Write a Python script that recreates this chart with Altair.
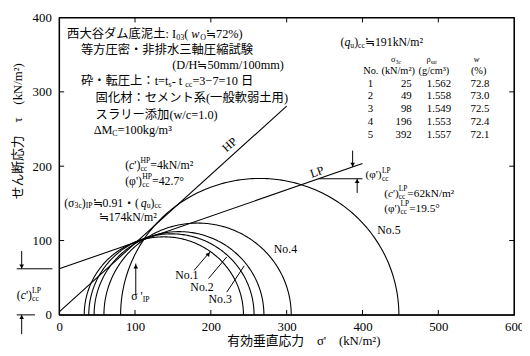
import math
import altair as alt
import pandas as pd
import numpy as np

# ---------------- data ----------------
circle_names = ["No.1", "No.2", "No.3", "No.4", "No.5"]
sigma3_f = [33, 39, 46, 59, 81]        # left end of each Mohr circle (kN/m2)
sigma1_f = [243, 257, 270, 306, 448]   # right end of each Mohr circle (kN/m2)

table_no = [1, 2, 3, 4, 5]
table_s3c = [25, 49, 98, 196, 392]
table_rho = [1.562, 1.558, 1.549, 1.553, 1.557]
table_w = [72.8, 73.0, 72.5, 72.4, 72.1]

env_names = ["HP", "LP"]
env_c = [4, 62]
env_phi = [42.7, 19.5]
env_xmax = [300, 400]

x_ticks = [0, 100, 200, 300, 400, 500, 600]
y_ticks = [0, 100, 200, 300, 400]

# ---------------- layout helpers ----------------
W, H = 462, 302
kx = 600 / W
ky = 400 / H
FONT = "Liberation Serif, Noto Sans CJK JP"

xs = alt.Scale(domain=[0, 600], nice=False, zero=False)
ys = alt.Scale(domain=[0, 400], nice=False, zero=False)

CW = {'(': .333, ')': .333, "'": .18, '=': .564, '.': .25, '/': .278, '°': .4, '²': .3,
      '³': .3, ' ': .25, '%': .833, '-': .333, '−': .564, ':': .278, '≒': 1.0, 'σ': .55,
      'φ': .6, 'ρ': .5, 'τ': .44, 'Δ': .61, ',': .25,
      'I': .333, 'P': .556, 'L': .611, 'M': .889, 'N': .722, 'H': .722, 'D': .722, 'C': .667, 'O': .722,
      'i': .278, 'l': .278, 't': .278, 'm': .778, 'w': .722, 'c': .444, 's': .389, 'k': .5, 'g': .5,
      'u': .5, 'q': .5, 'a': .444, 'n': .5, 'e': .444, 'o': .5}


def cw(ch):
    if ch in CW:
        return CW[ch]
    if ch.isdigit():
        return .5
    if ord(ch) > 0x2E80:
        return 1.0
    if ch.isupper():
        return .7
    return .45


def rich(x, y, parts, size=12.5):
    rows = []
    off = 0.0
    sub_start = 0.0
    sub_end = 0.0
    for txt, kind in parts:
        base = kind[0]
        it = kind.endswith('i')
        s = size * 0.65 if base in 'bpq' else size
        if base == 'n':
            dy = 0.0
        elif base == 'b':
            dy = 0.32 * size
        else:
            dy = -0.38 * size
        w = sum(cw(c) for c in txt) * s
        start = sub_start if base == 'q' else off
        rows.append(dict(x=x + start * kx, y=y - dy * ky, text=txt, size=s, it=it))
        if base == 'b':
            sub_start = off
            off += w
            sub_end = off
        elif base == 'q':
            off = max(sub_end, sub_start + w)
        else:
            off += w
    return rows


X = lambda: alt.X("x:Q", scale=xs)
Y = lambda: alt.Y("y:Q", scale=ys)

# ---------------- Mohr circles ----------------
crow = []
for name, a, b in zip(circle_names, sigma3_f, sigma1_f):
    c = (a + b) / 2
    r = (b - a) / 2
    for k in range(0, 181):
        t = math.radians(k)
        crow.append(dict(no=name, k=k, x=c + r * math.cos(t), y=r * math.sin(t)))
cdf = pd.DataFrame(crow)

xaxis = alt.Axis(values=x_ticks, ticks=False, domain=False, grid=False, labelFont=FONT,
                 labelFontSize=13, labelColor="black", labelPadding=6, labelFlush=False,
                 title="有効垂直応力　σ'　(kN/m²)", titleFont=FONT, titleFontSize=13,
                 titleFontWeight="normal", titleColor="black", titleX=248, titleY=26,
                 titleAlign="center", titleBaseline="middle")
yaxis = alt.Axis(values=y_ticks, ticks=False, domain=False, grid=False, labelFont=FONT,
                 labelFontSize=13, labelColor="black", labelPadding=8, labelFlush=False,
                 title="せん断応力　τ　(kN/m²)", titleFont=FONT, titleFontSize=13,
                 titleFontWeight="normal", titleColor="black", titleX=-42, titleY=115,
                 titleAngle=270, titleAlign="center", titleBaseline="middle")

circles = alt.Chart(cdf).mark_line(color="black", strokeWidth=1.1).encode(
    x=alt.X("x:Q", scale=xs, axis=xaxis),
    y=alt.Y("y:Q", scale=ys, axis=yaxis),
    detail="no:N", order="k:Q")

# ---------------- envelopes ----------------
erow = []
for n, c, p, xm in zip(env_names, env_c, env_phi, env_xmax):
    for xv in (0, xm):
        erow.append(dict(env=n, x=xv, y=c + xv * math.tan(math.radians(p))))
edf = pd.DataFrame(erow)
envs = alt.Chart(edf).mark_line(color="black", strokeWidth=1.1, clip=False).encode(
    x=X(), y=Y(), detail="env:N")

# ---------------- leader / arrow segments ----------------
lp_tan = math.tan(math.radians(env_phi[1]))
seg = pd.DataFrame([
    dict(x=178, y=60, x2=199, y2=85),
    dict(x=197, y=49, x2=221, y2=78),
    dict(x=221, y=30.5, x2=244, y2=66),
    dict(x=101, y=26.5, x2=101, y2=69),
    dict(x=342, y=env_c[1] + 342 * lp_tan, x2=400, y2=env_c[1] + 342 * lp_tan),
    dict(x=387, y=221, x2=387, y2=env_c[1] + 387 * lp_tan),
    dict(x=393, y=164, x2=393, y2=env_c[1] + 342 * lp_tan),
    dict(x=-56, y=env_c[1], x2=-9, y2=env_c[1]),
    dict(x=-49.5, y=86, x2=-49.5, y2=env_c[1]),
    dict(x=-56, y=0, x2=-32, y2=0),
    dict(x=-49.5, y=-26, x2=-49.5, y2=0),
])
segs = alt.Chart(seg).mark_rule(color="black", strokeWidth=1.0, clip=False).encode(
    x=X(), y=Y(), x2="x2:Q", y2="y2:Q")

heads = pd.DataFrame([
    dict(x=101, y=65, ang=0),
    dict(x=197, y=82, ang=40),
    dict(x=387, y=env_c[1] + 387 * lp_tan + 3, ang=180),
    dict(x=393, y=env_c[1] + 342 * lp_tan - 3, ang=0),
    dict(x=-49.5, y=env_c[1] + 3, ang=180),
    dict(x=-49.5, y=-3, ang=0),
])
arrowheads = alt.Chart(heads).mark_point(shape="triangle-up", filled=True, color="black",
                                         size=22, opacity=1, clip=False).encode(
    x=X(), y=Y(), angle=alt.Angle("ang:Q", scale=None))

# ---------------- frame and inward ticks ----------------
tk = dict(color="black", strokeWidth=1.2)
frame_src = pd.DataFrame(dict(k=[0]))
frame = alt.layer(
    alt.Chart(frame_src).mark_rule(**tk).encode(x=alt.value(0), x2=alt.value(W), y=alt.value(0)),
    alt.Chart(frame_src).mark_rule(**tk).encode(x=alt.value(0), x2=alt.value(W), y=alt.value(H)),
    alt.Chart(frame_src).mark_rule(**tk).encode(y=alt.value(0), y2=alt.value(H), x=alt.value(0)),
    alt.Chart(frame_src).mark_rule(**tk).encode(y=alt.value(0), y2=alt.value(H), x=alt.value(W)),
)
xt = pd.DataFrame(dict(x=x_ticks[1:-1]))
yt = pd.DataFrame(dict(y=y_ticks[1:-1]))
tk1 = dict(color="black", strokeWidth=1)
tick_b = alt.Chart(xt).mark_rule(**tk1).encode(x=X(), y=alt.value(H), y2=alt.value(H - 5))
tick_t = alt.Chart(xt).mark_rule(**tk1).encode(x=X(), y=alt.value(0), y2=alt.value(5))
tick_l = alt.Chart(yt).mark_rule(**tk1).encode(y=Y(), x=alt.value(0), x2=alt.value(5))
tick_r = alt.Chart(yt).mark_rule(**tk1).encode(y=Y(), x=alt.value(W), x2=alt.value(W - 5))

# ---------------- texts ----------------
T = []
T += rich(10.4, 377.5, [("西大谷ダム底泥土: I", 'n'), ("03", 'b'), (" (", 'n'), ("w", 'ni'), ("O", 'b'), ("≒72%)", 'n')])
T += rich(28.6, 356, [("等方圧密・非排水三軸圧縮試験", 'n')])
T += rich(149, 336, [("(D/H≒50mm/100mm)", 'n')])
T += rich(28.6, 314, [("砕・転圧上：t=t", 'n'), ("s", 'b'), (" - t", 'n'), ("cc", 'b'), ("=3−7=10 日", 'n')])
T += rich(48, 291, [("固化材：セメント系(一般軟弱土用)", 'n')])
T += rich(48, 269, [("スラリー添加(w/c=1.0)", 'n')])
T += rich(45.5, 248, [("ΔM", 'n'), ("C", 'b'), (" =100kg/m³", 'n')])

T += rich(87, 201, [("(", 'n'), ("c", 'ni'), ("')", 'n'), ("cc", 'b'), ("HP", 'q'), ("=4kN/m²", 'n')], 12)
T += rich(87, 180, [("(φ')", 'n'), ("cc", 'b'), ("HP", 'q'), ("=42.7°", 'n')], 12)
T += rich(6.5, 151, [("(σ", 'n'), ("3c", 'b'), (")", 'n'), ("IP", 'b'), ("≒0.91・(", 'n'), ("q", 'ni'), ("u", 'b'), (")", 'n'), ("cc", 'b')], 12)
T += rich(52, 132, [("≒174kN/m²", 'n')], 12)
T += rich(371, 367, [("(", 'n'), ("q", 'ni'), ("u", 'b'), (")", 'n'), ("cc", 'b'), ("≒191kN/m²", 'n')], 12)

T += rich(404, 188, [("(φ')", 'n'), ("cc", 'b'), ("LP", 'q')], 11.5)
T += rich(428.6, 163, [("(", 'n'), ("c", 'ni'), ("')", 'n'), ("cc", 'b'), ("LP", 'q'), ("=62kN/m²", 'n')], 11.5)
T += rich(428.6, 143, [("(φ')", 'n'), ("cc", 'b'), ("LP", 'q'), ("=19.5°", 'n')], 11.5)

T += rich(153, 53, [(circle_names[0], 'n')], 12)
T += rich(173, 38, [(circle_names[1], 'n')], 12)
T += rich(197, 21, [(circle_names[2], 'n')], 12)
T += rich(283, 89, [(circle_names[3], 'n')], 12)
T += rich(419.5, 114, [(circle_names[4], 'n')], 12)

T += rich(95, 25, [("σ '", 'n'), ("IP", 'b')], 12)
T += rich(-56, 26.5, [("(", 'n'), ("c", 'ni'), ("')", 'n'), ("cc", 'b'), ("LP", 'q')], 12)

# table header
T += rich(437.7, 344, [("σ", 'n'), ("3c", 'b')], 8.5)
T += rich(484.4, 344, [("ρ", 'n'), ("sat", 'b')], 8.5)
T += rich(546.8, 344, [("w", 'ni')], 8.5)
T += rich(401, 328.5, [("No.", 'n')], 10.5)
T += rich(425, 328.5, [("(kN/m²)", 'n')], 10.5)
T += rich(474, 328.5, [("(g/cm³)", 'n')], 10.5)
T += rich(543, 328.5, [("(%)", 'n')], 10.5)

tdf = pd.DataFrame(T)


def text_layer(df, italic):
    return alt.Chart(df).mark_text(align="left", baseline="middle", font=FONT, color="black",
                                   fontStyle="italic" if italic else "normal", clip=False).encode(
        x=X(), y=Y(), text="text:N", size=alt.Size("size:Q", scale=None))


txt_n = text_layer(tdf[~tdf["it"]].drop(columns="it"), False)
txt_i = text_layer(tdf[tdf["it"]].drop(columns="it"), True)

# table body
trow = []
for i, (n, s3, rho, w) in enumerate(zip(table_no, table_s3c, table_rho, table_w)):
    yy = 311 - i * 17.2
    trow.append(dict(x=414, y=yy, text=str(n)))
    trow.append(dict(x=465, y=yy, text=str(s3)))
    trow.append(dict(x=517, y=yy, text=f"{rho:.3f}"))
    trow.append(dict(x=567.5, y=yy, text=f"{w:.1f}"))
table = alt.Chart(pd.DataFrame(trow)).mark_text(align="right", baseline="middle", font=FONT,
                                                fontSize=11, color="black").encode(
    x=X(), y=Y(), text="text:N")

# rotated envelope labels
ldf = pd.DataFrame([dict(x=224.7, y=229, text=env_names[0], ang=318),
                    dict(x=340, y=192.5, text=env_names[1], ang=341)])
elabels = alt.Chart(ldf).mark_text(align="center", baseline="middle", font=FONT, fontSize=12,
                                   color="black").encode(
    x=X(), y=Y(), text="text:N", angle=alt.Angle("ang:Q", scale=None))

chart = alt.layer(circles, envs, segs, arrowheads, tick_b, tick_t, tick_l, tick_r,
                  txt_n, txt_i, table, elabels, frame).properties(
    width=W, height=H,
    padding={"left": 52, "top": 7, "right": 8, "bottom": 33},
    autosize=alt.AutoSizeParams(type="none"),
    background="white",
).configure_view(stroke="black", strokeWidth=1.2)

chart.save("out.html", embed_options={"renderer": "svg", "actions": False})
